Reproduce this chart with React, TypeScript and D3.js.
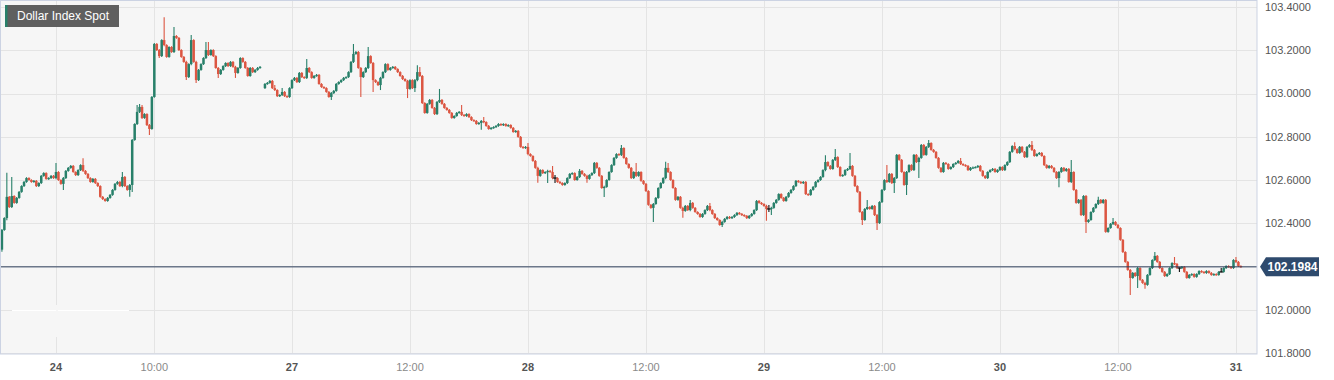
import React from 'react';
import * as d3 from 'd3';

// ---------- data ----------
// 15-minute candles, hours counted in trading time from the 24th 00:00
const firstCandleHour = -5.5;
const candleHours = 0.25;
const firstOpen = 102.278;
const gapOpen = 103.025;

const closes: (number | null)[] = [
  102.369, 102.424, 102.522, 102.475, 102.526, 102.494, 102.517, 102.545, 102.572, 102.591,
  102.609, 102.600, 102.591, 102.596, 102.572, 102.586, 102.619, 102.632, 102.605, 102.609,
  102.619, 102.609,
  102.637, 102.600, 102.582, 102.609, 102.642, 102.656, 102.665, 102.637, 102.623, 102.646,
  102.669, 102.642, 102.628, 102.609, 102.591, 102.605, 102.586, 102.572, 102.522, 102.512,
  102.503, 102.517, 102.531, 102.554, 102.582, 102.591, 102.572, 102.614, 102.572, 102.554,
  102.577, 102.785, 102.859, 102.915, 102.938, 102.887, 102.905, 102.854, 102.836, 102.984,
  103.229, 103.201, 103.173, 103.247, 103.224, 103.169, 103.215, 103.192, 103.266, 103.257,
  103.201, 103.169, 103.146, 103.076, 103.136, 103.247, 103.146, 103.062, 103.109, 103.136,
  103.164, 103.201, 103.178, 103.201, 103.173, 103.118, 103.090, 103.109, 103.127, 103.141,
  103.127, 103.146, 103.123, 103.095, 103.118, 103.164, 103.146, 103.118, 103.081, 103.118,
  103.099, 103.109, 103.118, 103.123, null, 103.044, 103.049, 103.058, 103.025, 103.016,
  102.988, 102.993, 103.007, 102.988, 102.984, 103.025, 103.062, 103.072, 103.053, 103.095,
  103.076, 103.072, 103.118, 103.099, 103.072, 103.081, 103.086, 103.044, 103.030, 103.025,
  103.007, 102.984, 103.002, 103.012, 103.044, 103.053, 103.062, 103.072, 103.076, 103.099,
  103.146, 103.183, 103.192, 103.118, 103.076, 103.099, 103.118, 103.173, 103.141, 103.062,
  103.053, 103.039, 103.072, 103.099, 103.136, 103.109, 103.118, 103.123, 103.113, 103.099,
  103.081, 103.067, 103.058, 103.021, 103.062, 103.025, 103.062, 103.099, 103.081, 102.956,
  102.910, 102.952, 102.970, 102.933, 102.905, 102.961, 102.970, 102.952, 102.933, 102.924,
  102.910, 102.887, 102.896, 102.910, 102.915, 102.901, 102.896, 102.905, 102.891, 102.877,
  102.873, 102.859, 102.864, 102.873, 102.868, 102.850, 102.836, 102.841, 102.845, 102.850,
  102.859, 102.854, 102.859, 102.850, 102.854, 102.841, 102.822, 102.827, 102.799, 102.753,
  102.748, 102.753, 102.720, 102.711, 102.688, 102.656, 102.619, 102.646, 102.632, 102.637,
  102.642, 102.637, 102.609, 102.609, 102.591, 102.586, 102.577, 102.586, 102.609, 102.628,
  102.632, 102.600, 102.614, 102.642, 102.628, 102.619, 102.605, 102.623, 102.632, 102.679,
  102.656, 102.619, 102.563, 102.568, 102.600, 102.637, 102.669, 102.702, 102.720, 102.716,
  102.748, 102.702, 102.674, 102.656, 102.609, 102.637, 102.619, 102.637, 102.596, 102.582,
  102.549, 102.485, 102.471, 102.489, 102.517, 102.563, 102.586, 102.609, 102.656, 102.637,
  102.600, 102.563, 102.508, 102.522, 102.471, 102.457, 102.480, 102.461, 102.494, 102.471,
  102.452, 102.443, 102.429, 102.443, 102.461, 102.480, 102.461, 102.443, 102.424, 102.415,
  102.392, 102.406, 102.420, 102.429, 102.424, 102.429, 102.438, 102.448, 102.443, 102.438,
  102.434, 102.424, 102.434, 102.443, 102.461, 102.503, 102.494, 102.489, 102.480, 102.466,
  102.466, 102.471, 102.494, 102.508, 102.535, 102.517, 102.503, 102.522, 102.540, 102.554,
  102.572, 102.596, 102.591, 102.586, 102.591, 102.535, 102.531, 102.554, 102.568, 102.591,
  102.600, 102.614, 102.646, 102.683, 102.665, 102.651, 102.693, 102.706, 102.660, 102.619,
  102.623, 102.646, 102.651, 102.665, 102.619, 102.572, 102.545, 102.452, 102.415, 102.466,
  102.475, 102.466, 102.480, 102.438, 102.401, 102.498, 102.554, 102.600, 102.591, 102.628,
  102.586, 102.609, 102.716, 102.693, 102.637, 102.577, 102.637, 102.669, 102.646, 102.716,
  102.683, 102.702, 102.762, 102.716, 102.753, 102.771, 102.739, 102.730, 102.702, 102.656,
  102.637, 102.679, 102.674, 102.651, 102.660, 102.674, 102.679, 102.688, 102.674, 102.669,
  102.665, 102.646, 102.656, 102.658, 102.660, 102.665, 102.642, 102.619, 102.609, 102.637,
  102.646, 102.651, 102.637, 102.646, 102.660, 102.646, 102.669, 102.683, 102.730, 102.757,
  102.743, 102.725, 102.753, 102.730, 102.706, 102.753, 102.762, 102.739, 102.711, 102.720,
  102.725, 102.711, 102.669, 102.656, 102.665, 102.656, 102.637, 102.609, 102.637, 102.656,
  102.642, 102.651, 102.591, 102.637, 102.554, 102.494, 102.508, 102.438, 102.526, 102.406,
  102.415, 102.452, 102.471, 102.489, 102.508, 102.494, 102.508, 102.360, 102.378, 102.397,
  102.406, 102.392, 102.378, 102.323, 102.267, 102.221, 102.184, 102.147, 102.170, 102.156,
  102.193, 102.138, 102.124, 102.115, 102.161, 102.193, 102.230, 102.249, 102.221, 102.193,
  102.175, 102.156, 102.165, 102.193, 102.216, 102.212, 102.193, 102.193, 102.198, 102.175,
  102.147, 102.161, 102.165, 102.152, 102.165, 102.179, 102.175, 102.170, 102.179, 102.170,
  102.161, 102.165, 102.161, 102.175, 102.175, 102.193, 102.202, 102.198, 102.193, 102.230,
  102.221, 102.202, 102.1984,
];

// notable shadows: [slot (15-min from 24th 00:00), upper, lower]
const defaultShadow = 0.004;
const shadows: [number, number, number][] = [
  [-22, 0.004, 0.01], [-20, 0.111, 0.01], [-18, 0.088, 0.005], [0, 0.042, 0.005], [3, 0.005, 0.028],
  [11, 0.032, 0.005], [27, 0.023, 0.005], [30, 0.005, 0.032], [31, 0.005, 0.032], [33, 0.032, 0.005],
  [34, 0.014, 0.005], [35, 0.009, 0.005], [38, 0.005, 0.028], [42, 0.005, 0.009], [44, 0.106, 0.005],
  [48, 0.042, 0.005], [53, 0.005, 0.014], [55, 0.023, 0.005], [57, 0.005, 0.014], [61, 0.037, 0.005],
  [62, 0.037, 0.005], [66, 0.005, 0.018], [73, 0.005, 0.023], [89, 0.014, 0.005], [92, 0.018, 0.005],
  [102, 0.042, 0.005], [112, 0.005, 0.014], [121, 0.046, 0.005], [124, 0.005, 0.092], [127, 0.042, 0.005],
  [129, 0.005, 0.055], [132, 0.005, 0.023], [143, 0.005, 0.042], [146, 0.005, 0.018], [147, 0.032, 0.005],
  [148, 0.023, 0.005], [156, 0.051, 0.005], [165, 0.032, 0.005], [173, 0.005, 0.032], [174, 0.018, 0.005],
  [192, 0.018, 0.005], [196, 0.005, 0.032], [200, 0.005, 0.051], [202, 0.028, 0.005], [203, 0.014, 0.023],
  [213, 0.009, 0.005], [216, 0.005, 0.018], [223, 0.005, 0.042], [230, 0.014, 0.005], [236, 0.042, 0.005],
  [243, 0.005, 0.065], [248, 0.028, 0.005], [249, 0.023, 0.005], [255, 0.005, 0.032], [258, 0.014, 0.005],
  [266, 0.014, 0.005], [271, 0.005, 0.009], [289, 0.005, 0.055], [290, 0.018, 0.014], [291, 0.005, 0.028],
  [313, 0.032, 0.005], [317, 0.037, 0.005], [323, 0.060, 0.005], [328, 0.005, 0.023], [330, 0.032, 0.005],
  [334, 0.005, 0.032], [338, 0.069, 0.005], [341, 0.005, 0.046], [346, 0.005, 0.046], [351, 0.005, 0.074],
  [355, 0.014, 0.005], [368, 0.014, 0.005], [390, 0.018, 0.005], [397, 0.018, 0.005], [408, 0.005, 0.042],
  [413, 0.055, 0.005], [419, 0.005, 0.051], [424, 0.014, 0.005], [430, 0.018, 0.005], [437, 0.005, 0.079],
  [440, 0.005, 0.055], [443, 0.005, 0.018], [447, 0.018, 0.005], [455, 0.028, 0.005], [457, 0.002, 0.018],
  [474, 0.018, 0.002], [480, 0.014, 0.005],
];

const lastPrice = 102.1984;
const title = 'Dollar Index Spot';

const xTickHours = [0, 10, 24, 36, 48, 60, 72, 84, 96, 108, 120];
const xTickLabels = ['24', '10:00', '27', '12:00', '28', '12:00', '29', '12:00', '30', '12:00', '31'];
const xTickMajor = [true, false, true, false, true, false, true, false, true, false, true];
const yTickValues = [101.8, 102.0, 102.2, 102.4, 102.6, 102.8, 103.0, 103.2, 103.4];
const yTickHidden = [102.2];

// ---------- style ----------
const FONT = '"Liberation Sans", Arial, Helvetica, sans-serif';
const GREEN = '#28806a';
const RED = '#dc5642';
const PLOT_L = 0, PLOT_R = 1257, PLOT_T = 1, PLOT_B = 354;

export default function App() {
  const x = d3.scaleLinear().domain([-5.695, 122.14]).range([PLOT_L, PLOT_R]);
  const y = d3.scaleLinear().domain([101.8, 103.4]).range([353, 7]);

  const shadowMap = new Map<number, [number, number]>();
  shadows.forEach(([s, u, d]) => shadowMap.set(s, [u, d]));
  const firstSlot = Math.round(firstCandleHour / candleHours);

  const candles: { cx: number; o: number; c: number; h: number; l: number }[] = [];
  closes.forEach((c, k) => {
    if (c == null) return;
    const prev = k === 0 ? firstOpen : closes[k - 1];
    const o = prev == null ? gapOpen : prev;
    const slot = firstSlot + k;
    const [u, d] = shadowMap.get(slot) ?? [defaultShadow, defaultShadow];
    candles.push({
      cx: x(firstCandleHour + k * candleHours),
      o, c,
      h: Math.max(o, c) + u,
      l: Math.min(o, c) - d,
    });
  });

  const lastY = y(lastPrice);

  return (
    <svg width={1334} height={380} style={{ position: 'absolute', left: 0, top: 0, display: 'block' }}
      fontFamily={FONT}>
      <rect x={0} y={0} width={1334} height={380} fill="#ffffff" />
      <rect x={PLOT_L} y={PLOT_T} width={PLOT_R - PLOT_L} height={PLOT_B - PLOT_T} fill="#f6f6f6" />
      {/* grid */}
      {yTickValues.map((v) => (
        <line key={'gy' + v} x1={PLOT_L} x2={PLOT_R} y1={Math.round(y(v)) + 0.5} y2={Math.round(y(v)) + 0.5}
          stroke="#e4e4e4" strokeWidth={1} />
      ))}
      {xTickHours.map((h) => (
        <line key={'gx' + h} x1={Math.round(x(h)) + 0.5} x2={Math.round(x(h)) + 0.5} y1={PLOT_T} y2={PLOT_B}
          stroke="#e4e4e4" strokeWidth={1} />
      ))}
      {/* small overlay artefacts seen in the reference */}
      <line x1={12} x2={129} y1={Math.round(y(102.0)) + 0.5} y2={Math.round(y(102.0)) + 0.5} stroke="#ffffff" />
      <rect x={Math.round(x(0))} y={305} width={2} height={32} fill="#f6f6f6" />

      {/* candles */}
      {candles.map((d, i) => {
        const color = d.c > d.o ? GREEN : d.c < d.o ? RED : '#111111';
        const top = y(Math.max(d.o, d.c));
        const bot = y(Math.min(d.o, d.c));
        const doji = d.c === d.o;
        return (
          <g key={i}>
            <line x1={d.cx} x2={d.cx} y1={y(d.h)} y2={y(d.l)} stroke={color} strokeWidth={1.1} />
            {doji ? (
              <line x1={d.cx - 1.8} x2={d.cx + 1.8} y1={top} y2={top} stroke={color} strokeWidth={1.3} />
            ) : (
              <rect x={d.cx - 1.25} width={2.5} y={top} height={Math.max(1.2, bot - top)} fill={color} />
            )}
          </g>
        );
      })}

      {/* last price line */}
      <line x1={PLOT_L} x2={PLOT_R} y1={lastY} y2={lastY} stroke="#2d3d5a" strokeWidth={1} />

      {/* plot border */}
      <rect x={PLOT_L + 0.5} y={PLOT_T - 0.5} width={PLOT_R - PLOT_L - 0.5} height={PLOT_B - PLOT_T + 0.5}
        fill="none" stroke="#ccd3e3" strokeWidth={1} />

      {/* y axis labels */}
      {yTickValues.filter((v) => !yTickHidden.includes(v)).map((v) => (
        <text key={'ty' + v} x={1265} y={y(v)} dy="0.35em" fontSize={11} fill="#555555">
          {v.toFixed(4)}
        </text>
      ))}

      {/* last price badge */}
      <path d={`M1260,${lastY} L1266,${lastY - 9.5} L1319,${lastY - 9.5} L1319,${lastY + 9.5} L1266,${lastY + 9.5} Z`}
        fill="#2e4a6d" />
      <text x={1292.5} y={lastY} dy="0.36em" textAnchor="middle" fontSize={12} fontWeight="bold" fill="#ffffff">
        {lastPrice.toFixed(4)}
      </text>

      {/* x axis labels */}
      {xTickHours.map((h, i) => (
        <text key={'tx' + h} x={x(h)} y={371} textAnchor="middle" fontSize={11}
          fontWeight={xTickMajor[i] ? 'bold' : 'normal'} fill={xTickMajor[i] ? '#555555' : '#8a8a8a'}>
          {xTickLabels[i]}
        </text>
      ))}

      {/* title box */}
      <rect x={5} y={5} width={114} height={22} fill="#5f5f5f" />
      <rect x={5} y={5} width={2.5} height={22} fill={GREEN} />
      <text x={17} y={16} dy="0.36em" fontSize={12} fill="#ffffff">{title}</text>
    </svg>
  );
}
